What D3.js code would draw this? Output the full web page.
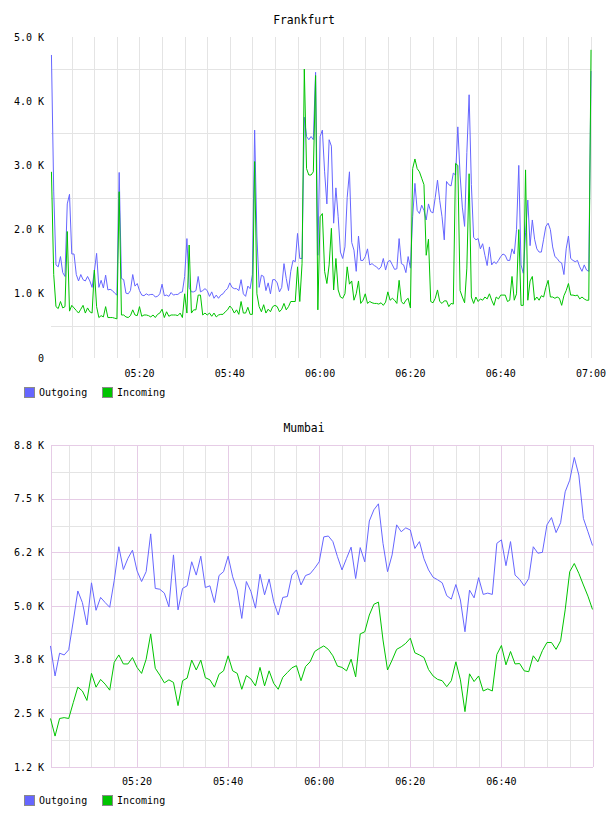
<!DOCTYPE html>
<html>
<head>
<meta charset="utf-8">
<title>Frankfurt / Mumbai</title>
<script src="https://cdn.jsdelivr.net/npm/d3@7"></script>
<style>
  body { margin: 0; background: #fff; }
  text { font-family: "DejaVu Sans Mono", monospace; fill: #000; }
  .grid { stroke: #e4e4e4; stroke-width: 1; shape-rendering: crispEdges; fill: none; }
  .major { stroke: #e6cce6; }
  .line { fill: none; stroke-width: 1; }
</style>
</head>
<body>
<div id="canvas"></div>
<script>
  // ---- Frankfurt, one sample every 30 s from 05:00:30, values in K
  var fraStart = "05:00:30", fraStep = 30;
  var fraOutgoing = [
    4.72, 2.6, 1.45, 1.42, 1.58, 1.33, 1.27, 2.4, 2.55, 1.62,
    1.62, 1.3, 1.2, 1.3, 1.22, 1.2, 1.27, 1.2, 1.1, 1.35,
    1.63, 1.1, 1.21, 1.09, 1.29, 1.06, 1.07, 1.05, 1.01, 0.98,
    2.89, 1.24, 1.22, 1.01, 1.0, 1.05, 1.3, 1.12, 1.16, 1.05,
    0.98, 0.97, 1.0, 0.98, 0.99, 0.99, 0.95, 0.96, 1.0, 1.15,
    0.97, 0.98, 0.96, 1.02, 0.98, 0.99, 0.99, 1.02, 1.03,
    1.27, 1.86, 1.1, 1.03, 1.03, 1.05, 1.27, 1.03, 1.05, 1.08,
    1.05, 0.96, 1.03, 0.93, 0.98, 0.93, 0.98, 1.0, 1.05, 1.08,
    1.17, 1.1, 1.08, 1.08, 1.05, 1.22, 1.0, 0.96, 1.12, 1.08,
    1.3, 3.55, 1.9, 1.1, 1.29, 1.27, 1.05, 1.17, 1.0, 1.22,
    1.22, 1.17, 1.03, 1.1, 1.47, 1.24, 1.05, 1.35, 1.52, 1.5,
    1.94, 1.55, 1.55, 3.75, 3.45, 3.4, 3.45, 3.4, 4.45, 1.6,
    3.45, 3.55, 2.9, 2.4, 3.4, 3.3, 2.1, 2.65, 2.2, 1.65,
    1.55, 1.73, 2.5, 2.9, 1.8, 1.68, 1.35, 1.9, 1.52, 1.52,
    1.58, 1.7, 1.45, 1.47, 1.44, 1.42, 1.38, 1.42, 1.55, 1.37,
    1.5, 1.52, 1.45, 1.38, 1.39, 1.86, 1.47, 1.45, 1.33, 1.58,
    1.4, 2.2, 2.72, 2.3, 2.25, 2.38, 2.3, 2.15, 2.4, 2.28,
    2.26, 2.5, 2.77, 2.45, 2.2, 1.84, 2.75, 2.7, 2.68, 2.88,
    2.85, 3.6, 2.85, 2.35, 2.05, 3.2, 4.1, 2.7, 1.88, 1.84,
    1.86, 1.7, 1.78, 1.6, 1.44, 1.73, 1.45, 1.5, 1.47, 1.52,
    1.58, 1.62, 1.6, 1.52, 1.52, 1.7, 1.62, 2.0, 3.0, 1.45,
    1.32, 1.95, 2.46, 1.75, 2.15, 1.85, 1.7, 1.65, 1.65, 1.85,
    2.05, 2.1, 2.0, 1.73, 1.58, 1.55, 1.5, 1.48, 1.3, 1.7,
    1.9, 1.55, 1.52, 1.5, 1.52, 1.42, 1.35, 1.45, 1.37, 1.35,
    4.47
  ];
  var fraIncoming = [
    2.9, 1.3, 0.8, 0.77, 0.88, 0.78, 0.8, 1.97, 0.73, 0.82,
    0.78, 0.74, 0.7, 0.76, 0.82, 0.7, 0.78, 0.72, 0.7, 1.37,
    0.8, 0.63, 0.66, 0.64, 0.8, 0.63, 0.63, 0.63, 0.62, 0.61,
    2.59, 0.67, 0.67, 0.64, 0.63, 0.66, 0.75, 0.67, 0.66, 0.8,
    0.65, 0.67, 0.67, 0.66, 0.64, 0.67, 0.63, 0.68, 0.7, 0.76,
    0.63, 0.72, 0.65, 0.67, 0.67, 0.67, 0.66, 0.7, 0.63,
    1.0, 0.7, 1.76, 0.7, 0.75, 0.75, 0.98, 0.98, 0.67, 0.7,
    0.67, 0.7, 0.65, 0.7, 0.64, 0.67, 0.68, 0.68, 0.72, 0.75,
    0.81, 0.77, 0.7, 0.75, 0.68, 0.88, 0.7, 0.7, 0.79, 0.68,
    0.68, 3.06, 1.0, 0.8, 0.72, 0.83, 0.7, 0.76, 0.72, 0.8,
    0.82, 0.8, 0.72, 0.76, 0.85, 0.75, 0.8, 0.88, 0.88, 0.88,
    1.42, 0.88, 1.47, 4.5, 2.95, 2.85, 2.85, 2.9, 4.4, 0.75,
    2.2, 2.25, 1.35, 1.16, 1.45, 2.02, 1.06, 1.55, 1.06, 0.95,
    0.93, 1.0, 1.42, 1.15, 1.2, 0.9, 1.0, 1.2, 0.85, 0.9,
    1.0, 0.85, 0.88, 0.86, 0.85, 0.85, 0.84, 0.86, 0.82, 0.87,
    1.03, 0.9, 0.93, 0.9, 0.85, 1.21, 0.88, 0.84, 0.9, 0.93,
    0.78, 2.95, 3.1, 2.95, 2.9, 2.8, 2.7, 1.6, 1.85, 0.88,
    0.86, 0.93, 1.06, 0.88, 0.85, 0.89, 0.89, 0.8, 0.85, 0.84,
    3.03, 3.0, 1.05, 0.95, 0.86, 1.4, 2.87, 0.95, 0.85, 0.95,
    0.88, 0.92, 0.9, 0.95, 0.92, 1.0, 0.9, 0.82, 0.95, 0.92,
    0.98, 0.98, 0.98, 0.88, 0.9, 1.27, 0.9, 1.0, 2.0, 0.82,
    0.82, 2.93, 0.9, 1.2, 1.27, 0.9, 0.95, 0.9, 0.97, 0.95,
    1.1, 1.21, 0.95, 0.95, 0.93, 0.95, 0.93, 0.82, 0.97, 1.05,
    1.16, 0.98, 0.98, 0.97, 0.98, 0.92, 0.95, 0.92, 0.9, 0.9,
    4.8
  ];
  var fraYTicks = [0, 1, 2, 3, 4, 5];
  var fraYLabels = ["0", "1.0 K", "2.0 K", "3.0 K", "4.0 K", "5.0 K"];
  var fraYGrid = [0.5, 1.5, 2.5, 3.5, 4.5];

  // ---- Mumbai, one sample a minute from 05:01, values in K
  var mumStart = "05:01:00", mumStep = 60;
  var mumOutgoing = [
    4.07, 3.37, 3.9, 3.86, 3.98, 4.65, 5.35, 5.08, 4.56, 5.54,
    4.9, 5.2, 5.08, 4.97, 5.6, 6.38, 5.85, 6.11, 6.3, 5.82,
    5.57, 5.8, 6.68, 5.41, 5.39, 5.3, 4.98, 6.19, 4.91, 5.41,
    5.47, 6.03, 5.72, 6.16, 5.43, 5.47, 5.08, 5.71, 5.8, 6.16,
    5.68, 5.37, 4.71, 5.57, 5.34, 4.95, 5.74, 5.26, 5.63, 5.1,
    4.79, 5.2, 5.22, 5.72, 5.84, 5.49, 5.71, 5.75, 5.88, 6.03,
    6.61, 6.63, 6.5, 6.15, 5.84, 6.11, 6.37, 5.64, 6.36, 6.03,
    6.98, 7.24, 7.38, 6.46, 5.8, 6.19, 6.89, 6.73, 6.82, 6.77,
    6.34, 6.5, 6.1, 5.84, 5.67, 5.61, 5.54, 5.24, 5.16, 5.5,
    5.14, 4.4, 5.37, 5.19, 5.66, 5.27, 5.3, 5.27, 6.46, 6.54,
    5.94, 6.5, 5.72, 5.62, 5.47, 5.64, 6.38, 6.23, 6.25, 6.89,
    7.06, 6.71, 6.94, 7.66, 7.93, 8.46, 8.05, 7.04, 6.73, 6.41
  ];
  var mumIncoming = [
    2.38, 1.97, 2.38, 2.4, 2.38, 2.75, 3.11, 3.02, 2.8, 3.43,
    3.11, 3.29, 3.18, 3.04, 3.69, 3.86, 3.65, 3.65, 3.8, 3.57,
    3.43, 3.76, 4.35, 3.55, 3.39, 3.21, 3.28, 3.22, 2.68, 3.26,
    3.32, 3.74, 3.51, 3.74, 3.33, 3.28, 3.11, 3.41, 3.49, 3.84,
    3.49, 3.43, 3.06, 3.38, 3.3, 3.14, 3.57, 3.14, 3.49, 3.2,
    3.06, 3.34, 3.45, 3.56, 3.61, 3.26, 3.59, 3.7, 3.94, 4.01,
    4.07, 3.99, 3.84, 3.6, 3.57, 3.49, 3.76, 3.35, 4.35, 4.4,
    4.79, 5.04, 5.09, 4.21, 3.51, 3.74, 3.99, 4.05, 4.13, 4.25,
    3.91, 3.86, 3.8, 3.52, 3.37, 3.29, 3.26, 3.12, 3.26, 3.7,
    3.28, 2.54, 3.42, 3.24, 3.37, 3.02, 3.07, 3.02, 3.87, 4.08,
    3.63, 3.94, 3.65, 3.66, 3.49, 3.47, 3.84, 3.7, 3.96, 4.15,
    4.15, 3.99, 4.19, 4.91, 5.8, 5.99, 5.76, 5.49, 5.23, 4.92
  ];
  var mumYTicks = [1.25, 2.5, 3.75, 5, 6.25, 7.5, 8.75];
  var mumYLabels = ["1.2 K", "2.5 K", "3.8 K", "5.0 K", "6.2 K", "7.5 K", "8.8 K"];
  var mumYGrid = [1.875, 3.125, 4.375, 5.625, 6.875, 8.125];

  var seriesNames = ["Outgoing", "Incoming"];
  var seriesColors = ["#6666ff", "#00c400"];

  var parseTime = d3.timeParse("%H:%M:%S");
  var fmt = d3.timeFormat("%H:%M");

  function toPoints(start, step, values) {
    var t0 = parseTime(start);
    return values.map(function(v, i) {
      return { t: d3.timeSecond.offset(t0, i * step), v: v };
    });
  }

  var svg = d3.select("#canvas").append("svg")
    .attr("width", 608)
    .attr("height", 816);

  function crisp(v) { return Math.round(v) + 0.5; }

  function drawChart(o) {
    var x = d3.scaleTime().domain(o.xDomain).range([o.left, o.right]);
    var y = d3.scaleLinear().domain(o.yDomain).range([o.bottom, o.top]);
    var g = svg.append("g");

    // title
    g.append("text")
      .attr("x", 304).attr("y", o.titleY)
      .attr("text-anchor", "middle")
      .style("font-size", "11.4px")
      .text(o.title);

    // vertical grid, every 5 minutes
    var minor = x.ticks(d3.timeMinute.every(5));
    g.selectAll(".vgrid").data(minor).enter().append("line")
      .attr("class", function(d) {
        return "grid" + (o.pinkMajor && d.getMinutes() % 20 === 0 ? " major" : "");
      })
      .attr("x1", function(d) { return crisp(x(d)); })
      .attr("x2", function(d) { return crisp(x(d)); })
      .attr("y1", o.top).attr("y2", o.bottom);

    // horizontal minor grid
    g.selectAll(".hgrid").data(o.yGrid).enter().append("line")
      .attr("class", "grid")
      .attr("x1", o.left).attr("x2", o.right)
      .attr("y1", function(d) { return crisp(y(d)); })
      .attr("y2", function(d) { return crisp(y(d)); });

    if (o.pinkMajor) {
      g.selectAll(".hmajor").data(o.yTicks).enter().append("line")
        .attr("class", "grid major")
        .attr("x1", o.left).attr("x2", o.right)
        .attr("y1", function(d) { return crisp(y(d)); })
        .attr("y2", function(d) { return crisp(y(d)); });
      g.selectAll(".vborder").data([o.left, o.right]).enter().append("line")
        .attr("class", "grid major")
        .attr("x1", function(d) { return crisp(d); })
        .attr("x2", function(d) { return crisp(d); })
        .attr("y1", o.top).attr("y2", o.bottom);
    }

    // y labels
    g.selectAll(".ylab").data(o.yTicks).enter().append("text")
      .attr("x", 44)
      .attr("y", function(d) { return y(d); })
      .attr("dy", "0.35em")
      .attr("text-anchor", "end")
      .style("font-size", "10px")
      .text(function(d, i) { return o.yLabels[i]; });

    // x labels, every 20 minutes
    var major = x.ticks(d3.timeMinute.every(20)).filter(function(d) {
      return o.lastLabel || d < o.xDomain[1];
    });
    g.selectAll(".xlab").data(major).enter().append("text")
      .attr("x", function(d) { return x(d); })
      .attr("y", o.xLabelY)
      .attr("text-anchor", "middle")
      .style("font-size", "10px")
      .text(function(d) { return fmt(d); });

    // series
    var line = d3.line()
      .x(function(d) { return x(d.t); })
      .y(function(d) { return y(d.v); });
    o.series.forEach(function(s, i) {
      g.append("path")
        .datum(s)
        .attr("class", "line")
        .attr("stroke", seriesColors[i])
        .attr("d", line);
    });

    // legend
    var leg = g.append("g").attr("transform", "translate(0," + o.legendY + ")");
    seriesNames.forEach(function(name, i) {
      var lx = 24.5 + i * 78;
      leg.append("rect")
        .attr("x", lx).attr("y", 0.5)
        .attr("width", 10).attr("height", 10)
        .attr("fill", seriesColors[i])
        .attr("stroke", "#8a8a8a");
      leg.append("text")
        .attr("x", lx + 14.5).attr("y", 9)
        .style("font-size", "10px")
        .text(name);
    });
  }

  drawChart({
    title: "Frankfurt", titleY: 24,
    xDomain: [parseTime("05:00:24"), parseTime("07:00:13")],
    yDomain: [0, 5],
    left: 51, right: 592, top: 37, bottom: 358,
    yTicks: fraYTicks, yLabels: fraYLabels, yGrid: fraYGrid,
    pinkMajor: false, lastLabel: true,
    xLabelY: 377, legendY: 387,
    series: [toPoints(fraStart, fraStep, fraOutgoing), toPoints(fraStart, fraStep, fraIncoming)]
  });

  drawChart({
    title: "Mumbai", titleY: 432,
    xDomain: [parseTime("05:01:00"), parseTime("07:00:00")],
    yDomain: [1.25, 8.75],
    left: 50.5, right: 592.5, top: 445, bottom: 767,
    yTicks: mumYTicks, yLabels: mumYLabels, yGrid: mumYGrid,
    pinkMajor: true, lastLabel: false,
    xLabelY: 785, legendY: 795,
    series: [toPoints(mumStart, mumStep, mumOutgoing), toPoints(mumStart, mumStep, mumIncoming)]
  });
</script>
</body>
</html>
